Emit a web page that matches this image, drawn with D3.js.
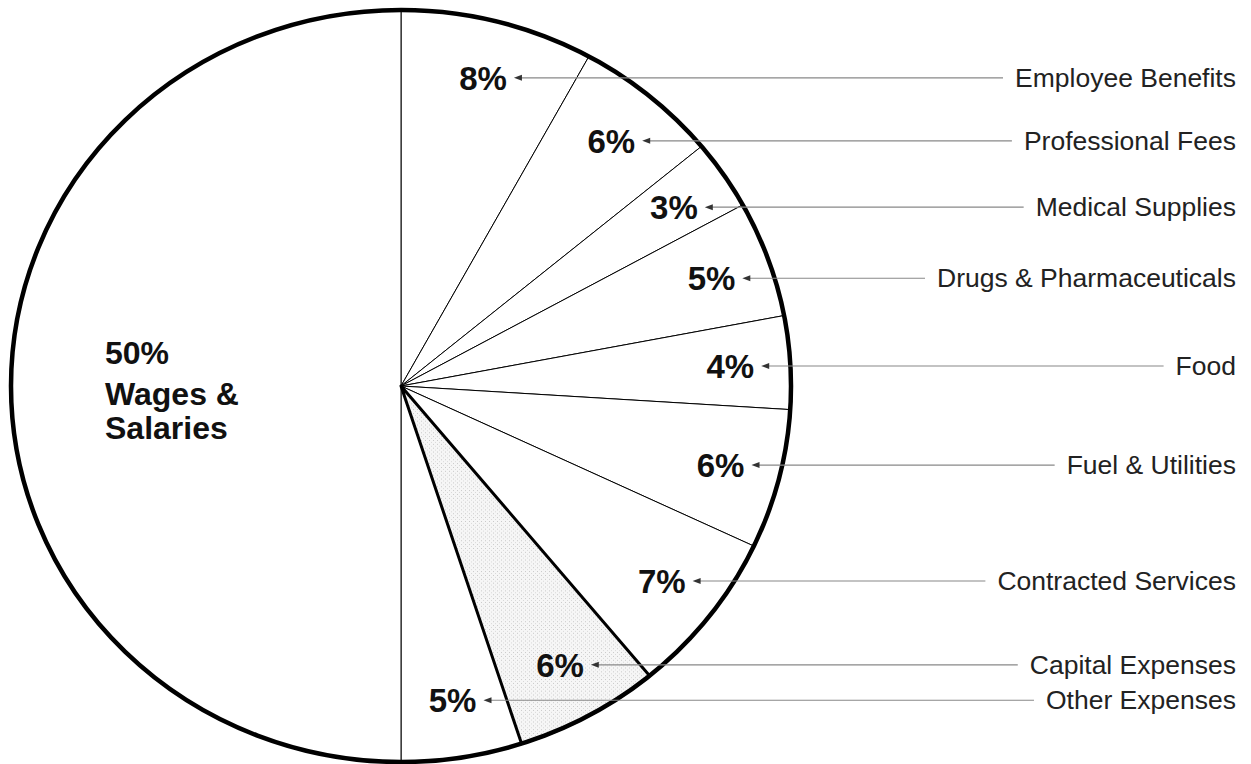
<!DOCTYPE html>
<html>
<head>
<meta charset="utf-8">
<script src="https://cdn.jsdelivr.net/npm/d3@7"></script>
<style>
  html, body { margin: 0; padding: 0; background: #fff; }
  svg { display: block; }
</style>
</head>
<body>
<svg id="chart" width="1251" height="764"></svg>
<script>
// ---- data ----
const categories = [
  "Employee Benefits", "Professional Fees", "Medical Supplies",
  "Drugs & Pharmaceuticals", "Food", "Fuel & Utilities",
  "Contracted Services", "Capital Expenses", "Other Expenses",
  "Wages & Salaries"
];
const values = [8, 6, 3, 5, 4, 6, 7, 6, 5, 50];
const highlightedCategory = "Capital Expenses";
const centerCategory = "Wages & Salaries";

// ---- layout ----
const W = 1251, H = 764;
const cx = 401, cy = 386, R = 390, ky = 376 / 390;
const labelR = 330, bigLabelR = 296;
const rightEdge = 1236;

const svg = d3.select("#chart");
const defs = svg.append("defs");
const pat = defs.append("pattern").attr("id", "stipple")
  .attr("patternUnits", "userSpaceOnUse").attr("width", 4).attr("height", 4);
pat.append("rect").attr("width", 4).attr("height", 4).attr("fill", "#f6f6f6");
pat.append("rect").attr("x", 0).attr("y", 0).attr("width", 1).attr("height", 1).attr("fill", "#c8c8c8");
pat.append("rect").attr("x", 2).attr("y", 2).attr("width", 1).attr("height", 1).attr("fill", "#d8d8d8");

const data = categories.map((c, i) => ({ category: c, value: values[i] }));
const pie = d3.pie().sort(null).value(d => d.value);
const arcs = pie(data);
const arc = d3.arc().innerRadius(0).outerRadius(R);

const g = svg.append("g").attr("transform", `translate(${cx},${cy}) scale(1,${ky})`);

// slice fills + thin edges
g.selectAll("path.slice").data(arcs).enter().append("path")
  .attr("class", "slice")
  .attr("d", arc)
  .attr("fill", d => d.data.category === highlightedCategory ? "url(#stipple)" : "#fff")
  .attr("stroke", "#000")
  .attr("stroke-width", 1)
  .attr("vector-effect", "non-scaling-stroke");

// thick edges for highlighted slice
g.selectAll("path.hl").data(arcs.filter(d => d.data.category === highlightedCategory)).enter()
  .append("path").attr("class", "hl")
  .attr("d", arc)
  .attr("fill", "none")
  .attr("stroke", "#000")
  .attr("stroke-width", 3)
  .attr("stroke-linejoin", "round")
  .attr("vector-effect", "non-scaling-stroke");

// outer rim
g.append("circle").attr("r", R).attr("fill", "none")
  .attr("stroke", "#000").attr("stroke-width", 4.5)
  .attr("vector-effect", "non-scaling-stroke");

function polar(a, r) {
  return [cx + r * Math.sin(a), cy - ky * r * Math.cos(a)];
}

const small = arcs.filter(d => d.data.category !== centerCategory);
const big = arcs.find(d => d.data.category === centerCategory);

const labels = svg.append("g");
small.forEach(d => {
  const mid = (d.startAngle + d.endAngle) / 2;
  const [x, y] = polar(mid, labelR);
  const pct = labels.append("text")
    .attr("x", x).attr("y", y + 12)
    .attr("text-anchor", "middle")
    .attr("font-family", "'Liberation Sans', Arial, Helvetica, sans-serif")
    .attr("font-weight", "bold")
    .attr("font-size", 33)
    .attr("fill", "#111")
    .text(d.value + "%");
  const pw = pct.node().getComputedTextLength();
  const tipX = x + pw / 2 + 7;

  const cat = labels.append("text")
    .attr("x", rightEdge).attr("y", y + 9)
    .attr("text-anchor", "end")
    .attr("font-family", "'Liberation Sans', Arial, Helvetica, sans-serif")
    .attr("font-size", 26.5)
    .attr("fill", "#222")
    .text(d.data.category);
  const cw = cat.node().getComputedTextLength();
  const lineEnd = rightEdge - cw - 12;

  labels.append("line")
    .attr("x1", tipX + 4).attr("y1", y)
    .attr("x2", lineEnd).attr("y2", y)
    .attr("stroke", "#888").attr("stroke-width", 1.2);
  labels.append("path")
    .attr("d", `M${tipX},${y} L${tipX + 8},${y - 3} L${tipX + 8},${y + 3} Z`)
    .attr("fill", "#333");
});

// big slice label
{
  const mid = (big.startAngle + big.endAngle) / 2;
  const [x, y] = polar(mid, bigLabelR);
  const parts = big.data.category.split(/(?<=&)\s+/);
  const t = svg.append("text")
    .attr("x", x).attr("y", y)
    .attr("font-family", "'Liberation Sans', Arial, Helvetica, sans-serif")
    .attr("font-weight", "bold")
    .attr("font-size", 32)
    .attr("fill", "#111");
  t.append("tspan").attr("x", x).attr("y", y - 22).text(big.value + "%");
  parts.forEach((p, i) => {
    t.append("tspan").attr("x", x).attr("y", y + 19 + i * 34).text(p);
  });
}
</script>
</body>
</html>
